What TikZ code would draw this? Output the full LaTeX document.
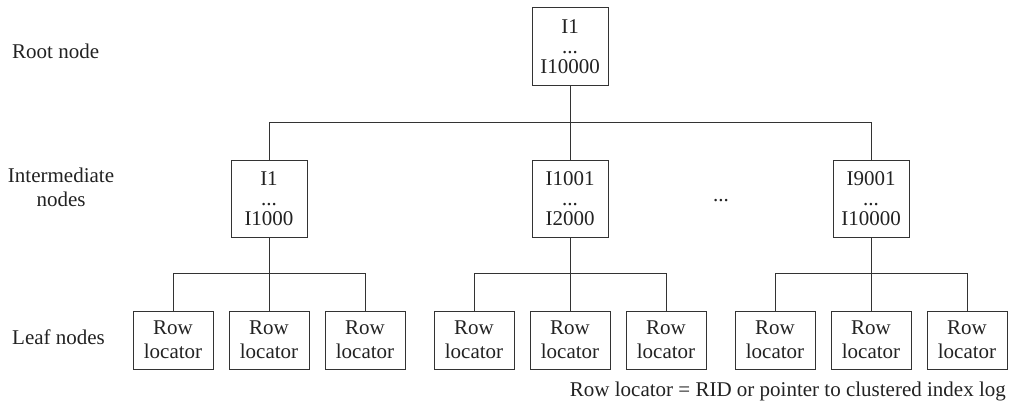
\documentclass[tikz,border=0pt]{standalone}
\usepackage{fontspec}
\setmainfont{Liberation Serif}
\definecolor{cInk}{HTML}{222222}
\definecolor{cLine}{HTML}{333333}
\tikzset{
    box/.style={draw=cLine, line width=1pt, align=center, inner sep=0pt, text=cInk},
    keybox/.style={box, minimum width=76pt, minimum height=77pt,
                   font=\fontsize{21}{20.3}\selectfont},
    leafbox/.style={box, minimum width=80pt, minimum height=58pt,
                    font=\fontsize{21}{24.3}\selectfont},
    lvl/.style={font=\fontsize{21}{24.5}\selectfont, text=cInk, inner sep=0pt, align=center},
    note/.style={font=\fontsize{21}{24}\selectfont, text=cInk, inner sep=0pt},
    link/.style={draw=cLine, line width=1pt},
}

\begin{document}
\begin{tikzpicture}[x=1pt, y=-1pt]
\useasboundingbox (0,0) rectangle (1009,404);

% niveles a la izquierda
\node[lvl, anchor=base west] (lroot) at (12,59) {Root node};
\node[lvl] (lint) at (61,187.5) {Intermediate\\nodes};
\node[lvl, anchor=base west] (lleaf) at (12,344) {Leaf nodes};

% raiz
\node[keybox] (root) at (570,46.5) {I1\\...\\I10000};

% nodos intermedios
\node[keybox] (i1) at (269,198.5) {I1\\...\\I1000};
\node[keybox] (i2) at (570,198.5) {I1001\\...\\I2000};
\node[keybox] (i3) at (871,198.5) {I9001\\...\\I10000};
\node[note, anchor=base] (gap) at (721,201) {...};

\coordinate (rbus) at (570,122.7);
\draw[link] (root.south) -- (rbus);
\foreach \g in {1,2,3}{\draw[link] (rbus) -| (i\g.north);}

% hojas: tres por cada nodo intermedio
\foreach \g/\cx in {1/269,2/570,3/871}{
    \coordinate (bus\g) at (\cx,273);
    \draw[link] (i\g.south) -- (bus\g);
    \foreach \k/\dx in {1/-96,2/0,3/96}{
        \node[leafbox] (l\g\k) at ({\cx+\dx},340) {Row\\locator};
        \draw[link] (bus\g) -| (l\g\k.north);
    }
}

\node[note, anchor=base east] (legend) at (1006,396)
     {Row locator = RID or pointer to clustered index log};

\end{tikzpicture}
\end{document}
